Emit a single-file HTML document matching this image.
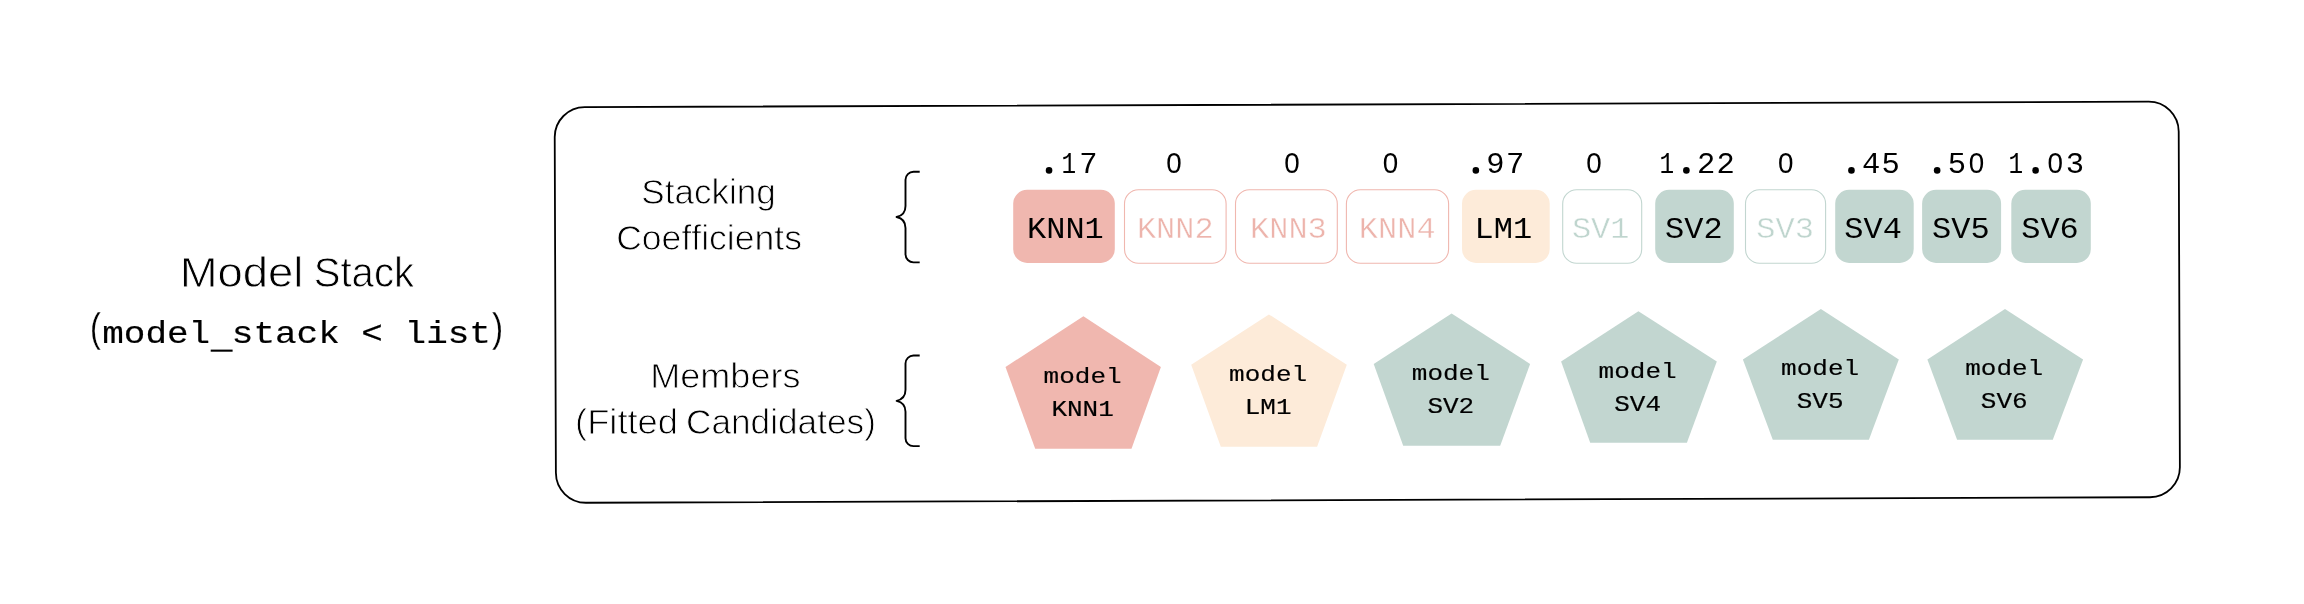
<!DOCTYPE html>
<html><head><meta charset="utf-8"><title>Model Stack</title>
<style>
html,body{margin:0;padding:0;background:#fff;}
body{width:2304px;height:604px;overflow:hidden;}
svg{display:block;will-change:transform;}
.sans{font-family:"Liberation Sans",sans-serif;fill:#000;font-kerning:none;}
.mono{font-family:"Liberation Mono",monospace;fill:#000;}
.thin{stroke:#fff;stroke-width:0.85;stroke-linejoin:round;}
.thin2{stroke:#fff;stroke-width:0.25;}
</style></head><body>
<svg width="2304" height="604" viewBox="0 0 2304 604">
<rect x="0" y="0" width="2304" height="604" fill="#ffffff"/>
<g transform="rotate(-0.2 1367.3 302.2)"><rect x="555.3" y="104.4" width="1624" height="395.6" rx="30" ry="30" fill="none" stroke="#000" stroke-width="1.8"/></g>
<text class="sans thin" x="179.65" y="287.43" font-size="42.5" textLength="123.82" lengthAdjust="spacingAndGlyphs">Model</text>
<text class="sans thin" x="313.65" y="287.43" font-size="42.5" textLength="100.41" lengthAdjust="spacingAndGlyphs">Stack</text>
<g transform="translate(89.95 342.32) scale(1 1.05)"><text class="sans thin2" x="0" y="0" font-size="38" textLength="10.86" lengthAdjust="spacingAndGlyphs">(</text></g>
<g transform="translate(102.20 342.80) scale(1 0.872)"><text class="mono" x="0" y="0" font-size="36" text-anchor="start" style="fill:#000;stroke:#000;stroke-width:0.2;">model stack &lt; list</text></g>
<rect x="210.7" y="349.6" width="21.9" height="2.1" fill="#000"/>
<g transform="translate(491.98 342.32) scale(1 1.05)"><text class="sans thin2" x="0" y="0" font-size="38" textLength="11.12" lengthAdjust="spacingAndGlyphs">)</text></g>
<text class="sans thin" x="641.38" y="204.23" font-size="34.2" textLength="134.50" lengthAdjust="spacingAndGlyphs">Stacking</text>
<text class="sans thin" x="616.17" y="250.12" font-size="34.2" textLength="185.84" lengthAdjust="spacingAndGlyphs">Coefficients</text>
<text class="sans thin" x="650.32" y="387.82" font-size="34.2" textLength="150.11" lengthAdjust="spacingAndGlyphs">Members</text>
<text class="sans thin" x="575.12" y="433.53" font-size="34.2" textLength="102.84" lengthAdjust="spacingAndGlyphs">(Fitted</text>
<text class="sans thin" x="685.99" y="433.53" font-size="34.2" textLength="189.92" lengthAdjust="spacingAndGlyphs">Candidates)</text>
<path d="M919.7 171.75 L913.5 171.75 C909.10 171.75 905.5 175.35 905.5 179.75 L905.5 206.05 C905.5 212.55 902.3 215.85000000000002 896.6 217.05 C902.3 218.25 905.5 221.55 905.5 228.05 L905.5 254.35000000000002 C905.5 258.75 909.10 262.35 913.5 262.35 L919.7 262.35" fill="none" stroke="#000" stroke-width="1.9" stroke-linecap="butt" stroke-linejoin="round"/>
<path d="M919.7 355.55 L913.5 355.55 C909.10 355.55 905.5 359.15 905.5 363.55 L905.5 389.85 C905.5 396.35 902.3 399.65000000000003 896.6 400.85 C902.3 402.05 905.5 405.35 905.5 411.85 L905.5 438.15000000000003 C905.5 442.55 909.10 446.15000000000003 913.5 446.15000000000003 L919.7 446.15000000000003" fill="none" stroke="#000" stroke-width="1.9" stroke-linecap="butt" stroke-linejoin="round"/>
<rect x="1013.2" y="189.8" width="101.6" height="73.1" rx="14" ry="14" fill="#F0B7AF"/>
<g transform="translate(1065.40 238.10) scale(1 0.895)"><text class="mono" x="0" y="0" font-size="32" text-anchor="middle" style="fill:#000;">KNN1</text></g>
<circle cx="1049.05" cy="170.40" r="3.3" fill="#000"/>
<g transform="translate(1068.70 172.80) scale(0.8 0.99)"><text class="mono" x="0" y="0" font-size="30.5" text-anchor="middle" style="fill:#000;">1</text></g>
<g transform="translate(1088.35 172.80) scale(1 0.99)"><text class="mono" x="0" y="0" font-size="30.5" text-anchor="middle" style="fill:#000;">7</text></g>
<rect x="1124.5" y="189.7" width="101.6" height="73.6" rx="14" ry="14" fill="#fff" stroke="#F0B7AF" stroke-width="1.1"/>
<g transform="translate(1175.30 238.10) scale(1 0.895)"><text class="mono" x="0" y="0" font-size="32" text-anchor="middle" style="fill:#EDB4AC;stroke:#fff;stroke-width:0.45;">KNN2</text></g>
<g transform="translate(1173.90 172.8) scale(1 1.07)"><text class="sans" x="0" y="0" font-size="27.8" text-anchor="middle">0</text></g>
<rect x="1235.5" y="189.7" width="101.8" height="73.6" rx="14" ry="14" fill="#fff" stroke="#F0B7AF" stroke-width="1.1"/>
<g transform="translate(1288.40 238.10) scale(1 0.895)"><text class="mono" x="0" y="0" font-size="32" text-anchor="middle" style="fill:#EDB4AC;stroke:#fff;stroke-width:0.45;">KNN3</text></g>
<g transform="translate(1292.00 172.8) scale(1 1.07)"><text class="sans" x="0" y="0" font-size="27.8" text-anchor="middle">0</text></g>
<rect x="1346.4" y="189.7" width="102.2" height="73.6" rx="14" ry="14" fill="#fff" stroke="#F0B7AF" stroke-width="1.1"/>
<g transform="translate(1397.20 238.10) scale(1 0.895)"><text class="mono" x="0" y="0" font-size="32" text-anchor="middle" style="fill:#EDB4AC;stroke:#fff;stroke-width:0.45;">KNN4</text></g>
<g transform="translate(1390.40 172.8) scale(1 1.07)"><text class="sans" x="0" y="0" font-size="27.8" text-anchor="middle">0</text></g>
<rect x="1462.0" y="189.8" width="87.7" height="73.1" rx="14" ry="14" fill="#FDEBD9"/>
<g transform="translate(1503.40 238.10) scale(1 0.895)"><text class="mono" x="0" y="0" font-size="32" text-anchor="middle" style="fill:#000;">LM1</text></g>
<circle cx="1475.85" cy="170.40" r="3.3" fill="#000"/>
<g transform="translate(1495.50 172.80) scale(1 0.99)"><text class="mono" x="0" y="0" font-size="30.5" text-anchor="middle" style="fill:#000;">9</text></g>
<g transform="translate(1515.15 172.80) scale(1 0.99)"><text class="mono" x="0" y="0" font-size="30.5" text-anchor="middle" style="fill:#000;">7</text></g>
<rect x="1562.7" y="189.7" width="79.0" height="73.6" rx="14" ry="14" fill="#fff" stroke="#C2D6D0" stroke-width="1.1"/>
<g transform="translate(1600.70 238.10) scale(1 0.895)"><text class="mono" x="0" y="0" font-size="32" text-anchor="middle" style="fill:#BFD5CE;stroke:#fff;stroke-width:0.45;">SV1</text></g>
<g transform="translate(1594.00 172.8) scale(1 1.07)"><text class="sans" x="0" y="0" font-size="27.8" text-anchor="middle">0</text></g>
<rect x="1655.2" y="189.8" width="78.6" height="73.1" rx="14" ry="14" fill="#C2D6D0"/>
<g transform="translate(1693.90 238.10) scale(1 0.895)"><text class="mono" x="0" y="0" font-size="32" text-anchor="middle" style="fill:#000;">SV2</text></g>
<g transform="translate(1666.73 172.80) scale(0.8 0.99)"><text class="mono" x="0" y="0" font-size="30.5" text-anchor="middle" style="fill:#000;">1</text></g>
<circle cx="1686.38" cy="170.40" r="3.3" fill="#000"/>
<g transform="translate(1706.03 172.80) scale(1 0.99)"><text class="mono" x="0" y="0" font-size="30.5" text-anchor="middle" style="fill:#000;">2</text></g>
<g transform="translate(1725.67 172.80) scale(1 0.99)"><text class="mono" x="0" y="0" font-size="30.5" text-anchor="middle" style="fill:#000;">2</text></g>
<rect x="1745.5" y="189.7" width="80.1" height="73.6" rx="14" ry="14" fill="#fff" stroke="#C2D6D0" stroke-width="1.1"/>
<g transform="translate(1785.10 238.10) scale(1 0.895)"><text class="mono" x="0" y="0" font-size="32" text-anchor="middle" style="fill:#BFD5CE;stroke:#fff;stroke-width:0.45;">SV3</text></g>
<g transform="translate(1785.70 172.8) scale(1 1.07)"><text class="sans" x="0" y="0" font-size="27.8" text-anchor="middle">0</text></g>
<rect x="1835.2" y="189.8" width="78.5" height="73.1" rx="14" ry="14" fill="#C2D6D0"/>
<g transform="translate(1873.10 238.10) scale(1 0.895)"><text class="mono" x="0" y="0" font-size="32" text-anchor="middle" style="fill:#000;">SV4</text></g>
<circle cx="1851.45" cy="170.40" r="3.3" fill="#000"/>
<g transform="translate(1871.10 172.80) scale(1 0.99)"><text class="mono" x="0" y="0" font-size="30.5" text-anchor="middle" style="fill:#000;">4</text></g>
<g transform="translate(1890.75 172.80) scale(1 0.99)"><text class="mono" x="0" y="0" font-size="30.5" text-anchor="middle" style="fill:#000;">5</text></g>
<rect x="1922.1" y="189.8" width="79.0" height="73.1" rx="14" ry="14" fill="#C2D6D0"/>
<g transform="translate(1960.90 238.10) scale(1 0.895)"><text class="mono" x="0" y="0" font-size="32" text-anchor="middle" style="fill:#000;">SV5</text></g>
<circle cx="1937.15" cy="170.40" r="3.3" fill="#000"/>
<g transform="translate(1956.80 172.80) scale(1 0.99)"><text class="mono" x="0" y="0" font-size="30.5" text-anchor="middle" style="fill:#000;">5</text></g>
<g transform="translate(1976.45 172.8) scale(1 1.07)"><text class="sans" x="0" y="0" font-size="27.8" text-anchor="middle">0</text></g>
<rect x="2011.3" y="189.8" width="79.5" height="73.1" rx="14" ry="14" fill="#C2D6D0"/>
<g transform="translate(2050.00 238.10) scale(1 0.895)"><text class="mono" x="0" y="0" font-size="32" text-anchor="middle" style="fill:#000;">SV6</text></g>
<g transform="translate(2015.93 172.80) scale(0.8 0.99)"><text class="mono" x="0" y="0" font-size="30.5" text-anchor="middle" style="fill:#000;">1</text></g>
<circle cx="2035.58" cy="170.40" r="3.3" fill="#000"/>
<g transform="translate(2055.22 172.8) scale(1 1.07)"><text class="sans" x="0" y="0" font-size="27.8" text-anchor="middle">0</text></g>
<g transform="translate(2074.88 172.80) scale(1 0.99)"><text class="mono" x="0" y="0" font-size="30.5" text-anchor="middle" style="fill:#000;">3</text></g>
<polygon points="1083.40,316.30 1160.90,367.00 1131.50,448.75 1035.20,448.75 1005.50,367.00" fill="#F0B7AF"/>
<g transform="translate(1082.60 382.70) scale(1 0.87)"><text class="mono" x="0" y="0" font-size="26" text-anchor="middle" style="fill:#000;stroke:#000;stroke-width:0.2;">model</text></g>
<g transform="translate(1082.60 415.60) scale(1 0.87)"><text class="mono" x="0" y="0" font-size="26" text-anchor="middle" style="fill:#000;stroke:#000;stroke-width:0.2;">KNN1</text></g>
<polygon points="1268.90,314.40 1346.80,364.80 1317.10,446.80 1220.80,446.80 1191.20,364.80" fill="#FDEBD9"/>
<g transform="translate(1268.10 380.80) scale(1 0.87)"><text class="mono" x="0" y="0" font-size="26" text-anchor="middle" style="fill:#000;stroke:#000;stroke-width:0.2;">model</text></g>
<g transform="translate(1268.10 413.70) scale(1 0.87)"><text class="mono" x="0" y="0" font-size="26" text-anchor="middle" style="fill:#000;stroke:#000;stroke-width:0.2;">LM1</text></g>
<polygon points="1451.60,313.40 1530.10,364.00 1500.20,445.70 1403.20,445.70 1373.70,364.00" fill="#C2D6D0"/>
<g transform="translate(1450.80 379.80) scale(1 0.87)"><text class="mono" x="0" y="0" font-size="26" text-anchor="middle" style="fill:#000;stroke:#000;stroke-width:0.2;">model</text></g>
<g transform="translate(1450.80 412.70) scale(1 0.87)"><text class="mono" x="0" y="0" font-size="26" text-anchor="middle" style="fill:#000;stroke:#000;stroke-width:0.2;">SV2</text></g>
<polygon points="1638.40,311.20 1716.80,361.40 1686.90,442.70 1590.20,442.70 1561.10,361.40" fill="#C2D6D0"/>
<g transform="translate(1637.60 377.60) scale(1 0.87)"><text class="mono" x="0" y="0" font-size="26" text-anchor="middle" style="fill:#000;stroke:#000;stroke-width:0.2;">model</text></g>
<g transform="translate(1637.60 410.50) scale(1 0.87)"><text class="mono" x="0" y="0" font-size="26" text-anchor="middle" style="fill:#000;stroke:#000;stroke-width:0.2;">SV4</text></g>
<polygon points="1820.90,309.00 1898.80,359.40 1868.90,439.85 1772.80,439.85 1742.90,359.40" fill="#C2D6D0"/>
<g transform="translate(1820.10 375.40) scale(1 0.87)"><text class="mono" x="0" y="0" font-size="26" text-anchor="middle" style="fill:#000;stroke:#000;stroke-width:0.2;">model</text></g>
<g transform="translate(1820.10 408.30) scale(1 0.87)"><text class="mono" x="0" y="0" font-size="26" text-anchor="middle" style="fill:#000;stroke:#000;stroke-width:0.2;">SV5</text></g>
<polygon points="2005.00,309.00 2083.10,359.40 2052.80,439.85 1957.10,439.85 1927.40,359.40" fill="#C2D6D0"/>
<g transform="translate(2004.20 375.40) scale(1 0.87)"><text class="mono" x="0" y="0" font-size="26" text-anchor="middle" style="fill:#000;stroke:#000;stroke-width:0.2;">model</text></g>
<g transform="translate(2004.20 408.30) scale(1 0.87)"><text class="mono" x="0" y="0" font-size="26" text-anchor="middle" style="fill:#000;stroke:#000;stroke-width:0.2;">SV6</text></g>
</svg>
</body></html>
